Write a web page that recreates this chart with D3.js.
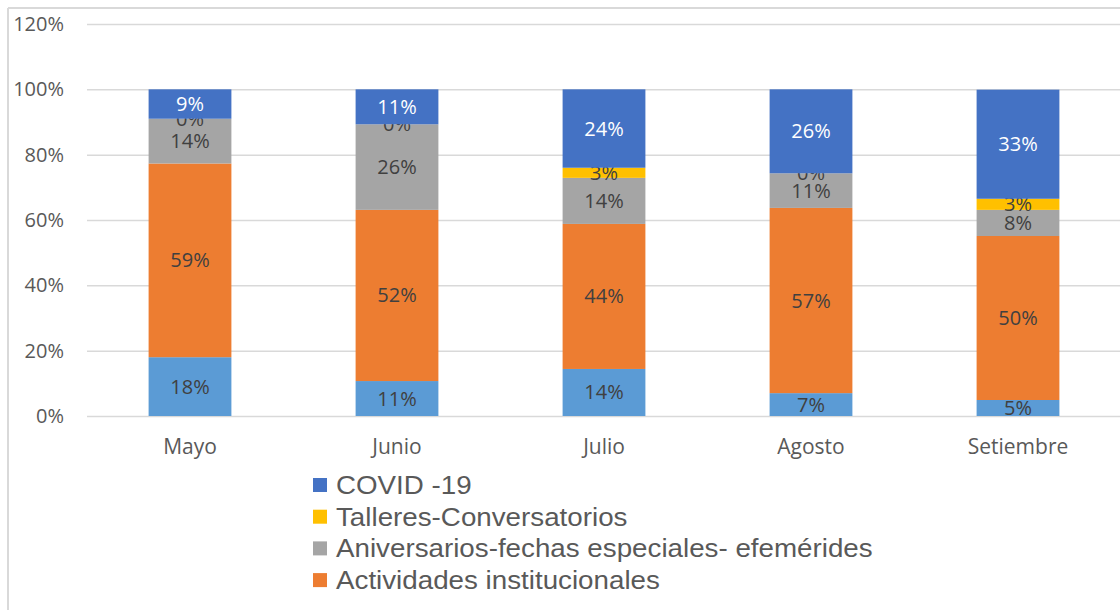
<!DOCTYPE html>
<html>
<head>
<meta charset="utf-8">
<script src="https://cdn.jsdelivr.net/npm/d3@7"></script>
<style>
  body { margin: 0; background: #fff; }
  svg { display: block; }
</style>
</head>
<body>
<svg id="chart"></svg>
<script>
let months = ["Mayo", "Junio", "Julio", "Agosto", "Setiembre"];

// stack order, bottom to top
let seriesNames = ["Otros", "Actividades institucionales", "Aniversarios-fechas especiales- efemérides", "Talleres-Conversatorios", "COVID -19"];
let otros = [0.18, 0.107, 0.144, 0.07, 0.049];
let actividades = [0.593, 0.524, 0.444, 0.567, 0.502];
let aniversarios = [0.137, 0.262, 0.141, 0.106, 0.08];
let talleres = [0, 0, 0.031, 0, 0.034];
let covid = [0.09, 0.107, 0.24, 0.257, 0.334];
let seriesColors = ["#5B9BD5", "#ED7D31", "#A5A5A5", "#FFC000", "#4472C4"];
let yTicks = [0, 0.2, 0.4, 0.6, 0.8, 1.0, 1.2];
let legendOrder = [4, 3, 2, 1];

let width = 1120, height = 610;
let svg = d3.select("#chart").attr("width", width).attr("height", height);

// frame
svg.append("line").attr("x1", 8).attr("x2", 8).attr("y1", 8).attr("y2", height)
  .attr("stroke", "#D9D9D9").attr("stroke-width", 2);
svg.append("line").attr("x1", 8).attr("x2", width).attr("y1", 8).attr("y2", 8)
  .attr("stroke", "#D9D9D9").attr("stroke-width", 2);

let x = d3.scaleBand().domain(months).range([86.5, 1121.5]).paddingInner(0.6).paddingOuter(0.3);
let y = d3.scaleLinear().domain([0, 1.2]).range([416, 24]);

let font = "'Open Sans', sans-serif";

// gridlines + y labels
let yAxis = svg.append("g").attr("transform", "translate(87,0)")
  .call(d3.axisLeft(y).tickValues(yTicks).tickFormat(d3.format(".0%")).tickSize(-(width - 87)).tickPadding(23));
yAxis.select(".domain").remove();
yAxis.selectAll(".tick line").attr("stroke", "#D9D9D9").attr("stroke-width", 1.5);
yAxis.selectAll(".tick text").attr("fill", "#595959")
  .style("font-family", font).style("font-size", "20px");

// stacked data
let table = months.map((m, i) => ({
  month: m,
  "Otros": otros[i],
  "Actividades institucionales": actividades[i],
  "Aniversarios-fechas especiales- efemérides": aniversarios[i],
  "Talleres-Conversatorios": talleres[i],
  "COVID -19": covid[i]
}));
let stacked = d3.stack().keys(seriesNames)(table);

let layers = svg.selectAll(".layer").data(stacked).enter().append("g")
  .attr("class", "layer").attr("fill", (d, i) => seriesColors[i]);

layers.selectAll("rect").data((d) => d).enter().append("rect")
  .attr("x", (d) => x(d.data.month))
  .attr("width", x.bandwidth())
  .attr("y", (d) => y(d[1]))
  .attr("height", (d) => y(d[0]) - y(d[1]));

let fmt = d3.format(".0%");
layers.each(function (layer, li) {
  d3.select(this).selectAll("text").data(layer).enter().append("text")
    .attr("x", (d) => x(d.data.month) + x.bandwidth() / 2)
    .attr("y", (d) => (y(d[0]) + y(d[1])) / 2)
    .attr("dy", "0.35em")
    .attr("text-anchor", "middle")
    .attr("fill", li === 4 ? "#FFFFFF" : "#404040")
    .style("font-family", font)
    .style("font-size", "20px")
    .text((d) => fmt(d[1] - d[0]));
});

// x labels
let xAxis = svg.append("g").attr("transform", "translate(0,416)")
  .call(d3.axisBottom(x).tickSize(0).tickPadding(23));
xAxis.select(".domain").remove();
xAxis.selectAll(".tick text").attr("fill", "#595959")
  .style("font-family", font).style("font-size", "21px");

// legend
let legend = svg.append("g").selectAll("g").data(legendOrder).enter().append("g")
  .attr("transform", (d, i) => "translate(313," + (485 + i * 31.7) + ")");
legend.append("rect").attr("x", 0).attr("y", -7).attr("width", 14).attr("height", 14)
  .attr("fill", (d) => seriesColors[d]);
legend.append("text").attr("transform", "translate(23,0) scale(1.11,1)").attr("dy", "0.36em")
  .attr("fill", "#595959")
  .style("font-family", "'Liberation Sans', Arial, sans-serif").style("font-size", "25px")
  .text((d) => seriesNames[d]);
</script>
</body>
</html>
